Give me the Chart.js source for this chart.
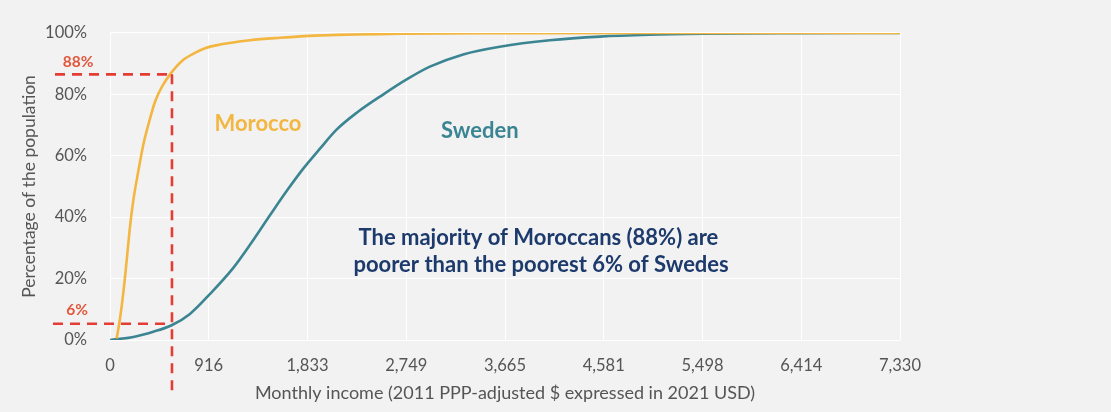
<!DOCTYPE html>
<html>
<head>
<meta charset="utf-8">
<script src="https://cdn.jsdelivr.net/npm/chart.js@4/dist/chart.umd.min.js"></script>
<style>
  html, body { margin: 0; padding: 0; background: #f2f2f2; }
  #wrap { width: 1111px; height: 412px; }
</style>
</head>
<body>
<div id="wrap"><canvas id="c" width="1111" height="412"></canvas></div>
<script>
// ---- Data ----
const xTickValues = [0, 916, 1833, 2749, 3665, 4581, 5498, 6414, 7330];
const yTickValues = [0, 20, 40, 60, 80, 100];

const moroccoX = [62, 93, 124, 155, 186, 216, 263, 309, 355, 417, 479, 557, 665, 788, 881, 1020, 1299, 1577, 1900, 2700, 3665, 5498, 7330];
const moroccoY = [0.5, 7, 15.5, 26, 37, 45.4, 55, 63.6, 70, 77.5, 82.3, 86.5, 90.8, 93.5, 95, 96.2, 97.6, 98.4, 99.1, 99.7, 99.9, 100, 100];

const swedenX = [0, 216, 402, 572, 742, 928, 1144, 1299, 1484, 1639, 1793, 1948, 2102, 2289, 2537, 2760, 2968, 3277, 3617, 4081, 4545, 5000, 5498, 6414, 7330];
const swedenY = [0, 1, 2.7, 4.8, 8.5, 15, 23.5, 31, 40.6, 48.5, 55.8, 62.3, 68.5, 74, 80, 85, 89, 93, 95.5, 97.6, 98.8, 99.4, 99.7, 99.9, 100];

const cutoffIncome = 575;
const moroccoShare = 86.5;   // where the dashed line meets Morocco
const swedenShare = 5.3;     // where the dashed line meets Sweden
const moroccoShareLabel = '88%';
const swedenShareLabel = '6%';

const seriesNames = ['Morocco', 'Sweden'];
const annotationLines = ['The majority of Moroccans (88%) are', 'poorer than the poorest 6% of Swedes'];

const COL_MOR = '#f2b641';
const COL_SWE = '#3b8593';
const COL_RED = '#e43d35';
const COL_ANN = '#1d3a6c';
const FONT = 'Lato, "Open Sans", sans-serif';

const toPts = (xs, ys) => xs.map((x, i) => ({x: x, y: ys[i]}));

const overlay = {
  id: 'overlay',
  afterDatasetsDraw(chart) {
    const ctx = chart.ctx;
    const xs = chart.scales.x, ys = chart.scales.y;
    const ca = chart.chartArea;
    const cx = xs.getPixelForValue(cutoffIncome);
    const yM = ys.getPixelForValue(moroccoShare);
    const yS = ys.getPixelForValue(swedenShare);
    ctx.save();
    ctx.strokeStyle = COL_RED;
    ctx.lineWidth = 2.6;
    ctx.setLineDash([10, 7]);
    ctx.beginPath();
    ctx.moveTo(ca.left - 55, yM); ctx.lineTo(cx, yM);
    ctx.moveTo(ca.left - 57, yS); ctx.lineTo(cx, yS);
    ctx.moveTo(cx, yM); ctx.lineTo(cx, ca.bottom + 57);
    ctx.stroke();
    ctx.setLineDash([]);
    // red labels
    ctx.fillStyle = '#e2573d';
    ctx.font = 'bold 15.5px ' + FONT;
    ctx.textAlign = 'center';
    ctx.textBaseline = 'middle';
    ctx.fillText(moroccoShareLabel, ca.left - 32, yM - 12);
    ctx.fillText(swedenShareLabel, ca.left - 33, yS - 14);
    // series labels
    ctx.font = 'bold 22px ' + FONT;
    ctx.fillStyle = COL_MOR;
    ctx.fillText(seriesNames[0], xs.getPixelForValue(1373), ys.getPixelForValue(70.5));
    ctx.fillStyle = COL_SWE;
    ctx.fillText(seriesNames[1], xs.getPixelForValue(3432), ys.getPixelForValue(68));
    // annotation
    ctx.font = 'bold 22px ' + FONT;
    ctx.fillStyle = COL_ANN;
    ctx.fillText(annotationLines[0], xs.getPixelForValue(3975), ys.getPixelForValue(33.3));
    ctx.fillText(annotationLines[1], xs.getPixelForValue(4000), ys.getPixelForValue(24.4));
    ctx.restore();
  }
};

new Chart(document.getElementById('c'), {
  type: 'scatter',
  data: {
    datasets: [
      { label: seriesNames[0], data: toPts(moroccoX, moroccoY), showLine: true, borderColor: COL_MOR,
        borderWidth: 2.6, pointRadius: 0, cubicInterpolationMode: 'monotone', fill: false },
      { label: seriesNames[1], data: toPts(swedenX, swedenY), showLine: true, borderColor: COL_SWE,
        borderWidth: 2.6, pointRadius: 0, cubicInterpolationMode: 'monotone', fill: false }
    ]
  },
  options: {
    responsive: false,
    animation: false,
    layout: { padding: { left: 0, right: 211, top: 28, bottom: 0 } },
    plugins: { legend: { display: false }, tooltip: { enabled: false } },
    scales: {
      x: {
        type: 'linear', min: 0, max: 7330,
        afterBuildTicks: (s) => { s.ticks = xTickValues.map(v => ({ value: v })); },
        afterFit: (s) => { s.height = 72; },
        ticks: {
          autoSkip: false, maxRotation: 0, padding: 16, color: '#555',
          font: { family: FONT, size: 16.5 },
          callback: (v) => Number(v).toLocaleString('en-US')
        },
        grid: { color: '#ffffff', lineWidth: 1, drawTicks: false },
        border: { display: false },
        title: {
          display: true, text: 'Monthly income (2011 PPP-adjusted $ expressed in 2021 USD)',
          color: '#555', font: { family: FONT, size: 18 }, padding: { top: 0, bottom: 8 }
        }
      },
      y: {
        min: 0, max: 100,
        afterBuildTicks: (s) => { s.ticks = yTickValues.map(v => ({ value: v })); },
        afterFit: (s) => { s.width = 110; },
        ticks: {
          padding: 23, color: '#555', font: { family: FONT, size: 16.5 },
          callback: (v) => v + '%'
        },
        grid: { color: '#ffffff', lineWidth: 1, drawTicks: false },
        border: { display: false },
        title: {
          display: true, text: 'Percentage of the population',
          color: '#555', font: { family: FONT, size: 17.5 }, padding: { top: 19, bottom: 0 }
        }
      }
    }
  },
  plugins: [overlay]
});
</script>
</body>
</html>
